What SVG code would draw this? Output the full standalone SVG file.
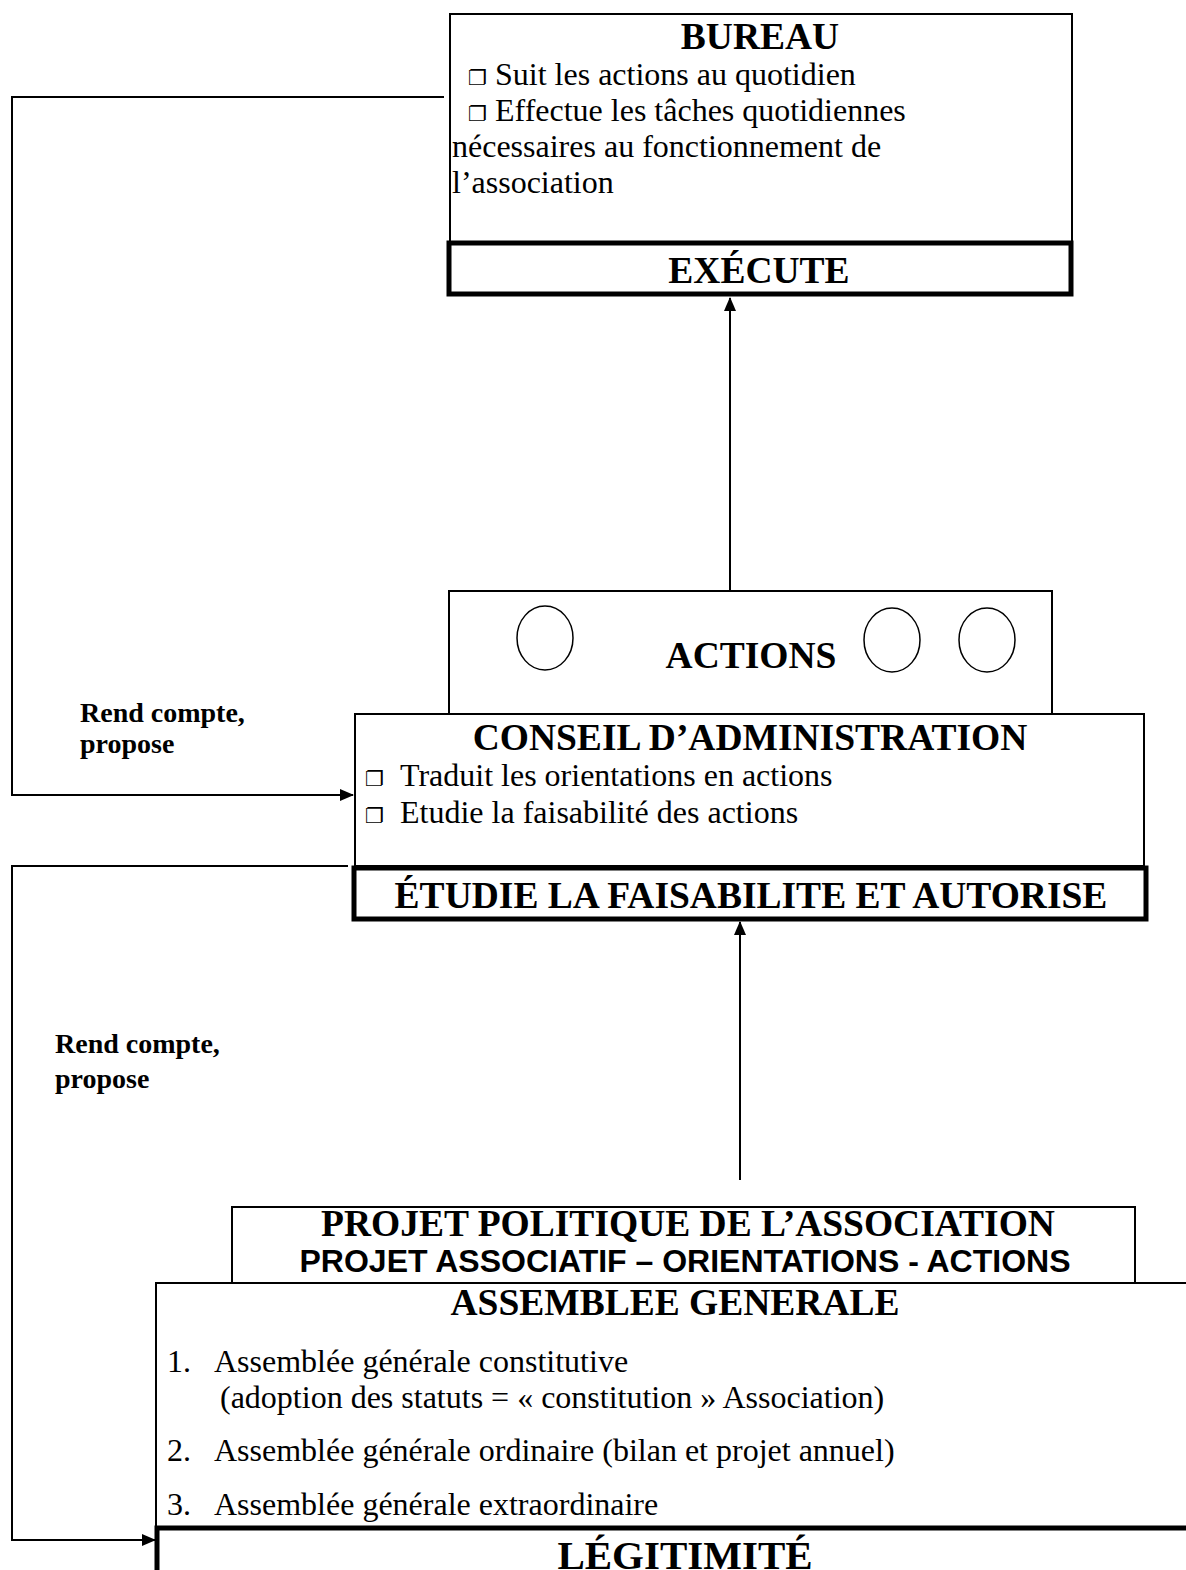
<svg xmlns="http://www.w3.org/2000/svg" width="1186" height="1570" viewBox="0 0 1186 1570">
<defs>
<marker id="ah" markerWidth="14" markerHeight="12" refX="13" refY="6" orient="auto" markerUnits="userSpaceOnUse">
<path d="M0,0 L14,6 L0,12 Z" fill="#000"/>
</marker>
<style>
.thin{fill:#fff;stroke:#000;stroke-width:2}
.thick{fill:#fff;stroke:#000;stroke-width:5}
.t{font-family:"Liberation Serif","Times New Roman",serif;fill:#000}
.b{font-weight:bold}
.h{font-size:37.5px;font-weight:bold;text-anchor:middle}
.body{font-size:32px}
.ck{font-family:"DejaVu Sans",sans-serif;font-size:21px}
.conn{fill:none;stroke:#000;stroke-width:2}
.lbl{font-size:28px;font-weight:bold}
</style>
</defs>
<rect width="1186" height="1570" fill="#fff"/>
<g id="connectors">
<polyline class="conn" points="444,97 12,97 12,795 353,795" marker-end="url(#ah)"/>
<polyline class="conn" points="348,866 12,866 12,1540 155,1540" marker-end="url(#ah)"/>
<line class="conn" x1="730" y1="607" x2="730" y2="298" marker-end="url(#ah)"/>
<line class="conn" x1="740" y1="1180" x2="740" y2="922" marker-end="url(#ah)"/>
<text class="t lbl" x="80" y="722">Rend compte,</text>
<text class="t lbl" x="80" y="753">propose</text>
<text class="t lbl" x="55" y="1053">Rend compte,</text>
<text class="t lbl" x="55" y="1088">propose</text>
</g>
<g id="bureau">
<rect class="thin" x="450" y="14" width="622" height="229"/>
<rect class="thick" x="449" y="243" width="622" height="51"/>
<text class="t h" x="760" y="49">BUREAU</text>
<text class="t body" x="468" y="85"><tspan class="ck">❐</tspan></text>
<text class="t body" x="495" y="85">Suit les actions au quotidien</text>
<text class="t body" x="468" y="121"><tspan class="ck">❐</tspan></text>
<text class="t body" x="495" y="121">Effectue les tâches quotidiennes</text>
<text class="t body" x="452" y="157">nécessaires au fonctionnement de</text>
<text class="t body" x="452" y="193">l’association</text>
<text class="t h" x="759" y="283">EXÉCUTE</text>
</g>
<g id="actions">
<rect class="thin" x="449" y="591" width="603" height="123"/>
<ellipse cx="545" cy="638" rx="28" ry="32" fill="none" stroke="#000" stroke-width="1.5"/>
<ellipse cx="892" cy="640" rx="28" ry="32" fill="none" stroke="#000" stroke-width="1.5"/>
<ellipse cx="987" cy="640" rx="28" ry="32" fill="none" stroke="#000" stroke-width="1.5"/>
<text class="t h" x="751" y="668">ACTIONS</text>
</g>
<g id="conseil">
<rect class="thin" x="355" y="714" width="789" height="152"/>
<rect class="thick" x="354" y="868" width="792" height="51"/>
<text class="t h" x="750" y="750">CONSEIL D’ADMINISTRATION</text>
<text class="t body" x="365" y="786"><tspan class="ck">❐</tspan></text>
<text class="t body" x="400" y="786">Traduit les orientations en actions</text>
<text class="t body" x="365" y="823"><tspan class="ck">❐</tspan></text>
<text class="t body" x="400" y="823">Etudie la faisabilité des actions</text>
<text class="t h" x="751" y="908">ÉTUDIE LA FAISABILITE ET AUTORISE</text>
</g>
<g id="projet">
<rect class="thin" x="232" y="1207" width="903" height="100"/>
<text class="t h" x="688" y="1236">PROJET POLITIQUE DE L’ASSOCIATION</text>
<text x="685" y="1272" font-size="32" font-weight="bold" font-family="Liberation Sans, Arial, sans-serif" text-anchor="middle">PROJET ASSOCIATIF – ORIENTATIONS - ACTIONS</text>
</g>
<g id="assemblee">
<rect class="thin" x="156" y="1283" width="1040" height="260"/>
<text class="t h" x="675" y="1315">ASSEMBLEE GENERALE</text>
<text class="t body" x="167" y="1372">1.</text>
<text class="t body" x="214" y="1372">Assemblée générale constitutive</text>
<text class="t body" x="220" y="1408">(adoption des statuts = « constitution » Association)</text>
<text class="t body" x="167" y="1461">2.</text>
<text class="t body" x="214" y="1461">Assemblée générale ordinaire (bilan et projet annuel)</text>
<text class="t body" x="167" y="1515">3.</text>
<text class="t body" x="214" y="1515">Assemblée générale extraordinaire</text>
</g>
<g id="legitimite">
<rect class="thick" x="157" y="1528" width="1040" height="60"/>
<text class="t h" x="685" y="1569" style="font-size:41px">LÉGITIMITÉ</text>
</g>
</svg>
